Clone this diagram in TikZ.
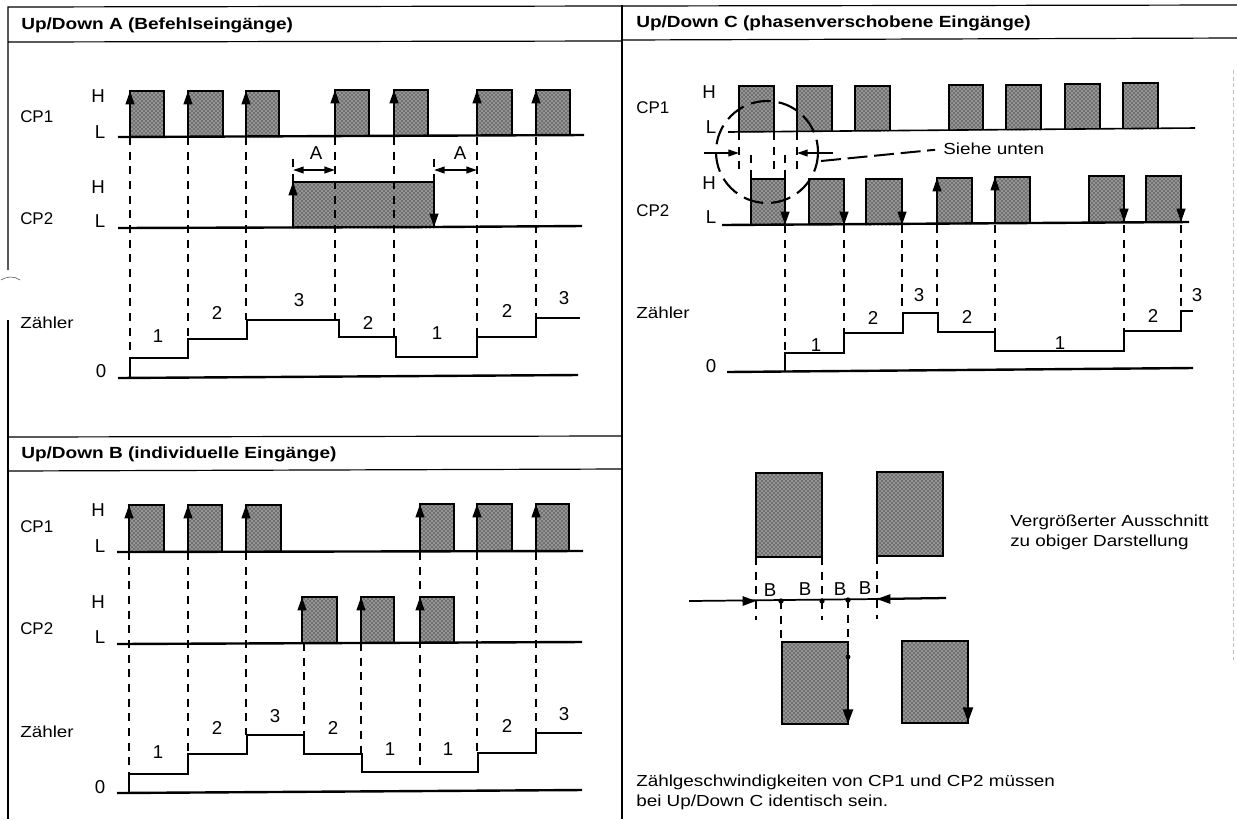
\documentclass[tikz,border=0pt]{standalone}
\usepackage{fontspec}
\setmainfont[FakeStretch=1.18]{Liberation Sans}
\newfontfamily\plainf{Liberation Sans}
\usetikzlibrary{arrows.meta,patterns}
\newcommand\pulse[4]{%
  \fill[black!42] (#1,#4) rectangle (#2,#3);
  \fill[pattern=crosshatch dots,pattern color=black] (#1,#4) rectangle (#2,#3);
  \draw[edge] (#1,#4) -- (#1,#3) -- (#2,#3) -- (#2,#4);}
\newcommand\pulsefull[4]{%
  \fill[black!42] (#1,#4) rectangle (#2,#3);
  \fill[pattern=crosshatch dots,pattern color=black] (#1,#4) rectangle (#2,#3);
  \draw[thickedge] (#1,#4) rectangle (#2,#3);}
\tikzset{
  x=0.75pt,y=-0.75pt,
  frame/.style={line width=0.9pt,black},
  edge/.style={line width=1.4pt,black},
  thickedge/.style={line width=2pt,black},
  base/.style={line width=1.8pt,black},
  stepline/.style={line width=1.5pt,black,line join=miter},
  vdash/.style={line width=1.4pt,black,dash pattern=on 6pt off 5pt},
  uptip/.style={-{Stealth[length=10pt,width=6.5pt,inset=0pt]},line width=1.5pt,black},
  bigtip/.style={-{Stealth[length=11pt,width=7.5pt,inset=0pt]},line width=1.6pt,black},
  dim/.style={{Stealth[length=8pt,width=5pt,inset=0pt]}-{Stealth[length=8pt,width=5pt,inset=0pt]},line width=1.3pt,black},
  onetip/.style={-{Stealth[length=8pt,width=5pt,inset=0pt]},line width=1.3pt,black},
  lab/.style={inner sep=0pt,font=\plainf\fontsize{14pt}{16pt}\selectfont,anchor=center},
  cplab/.style={inner sep=0pt,anchor=west,font=\plainf\fontsize{12.7pt}{15pt}\selectfont},
  llab/.style={inner sep=0pt,anchor=west,font=\fontsize{12pt}{14pt}\selectfont},
  head/.style={inner sep=0pt,anchor=west,font=\fontsize{12.1pt}{14pt}\selectfont\bfseries},
  note/.style={inner sep=0pt,anchor=west,font=\fontsize{12pt}{14pt}\selectfont},
  dotmark/.style={circle,fill=black,inner sep=0pt,minimum size=4pt},
}
\begin{document}
\begin{tikzpicture}
\useasboundingbox (0,0) rectangle (1237,819);
\fill[white] (0,0) rectangle (1237,819);
% frame
\draw[frame] (8,270) -- (8,7) -- (1237,5);
\draw[frame] (8,320) -- (8,819);
\draw[frame] (8,42) -- (622,41);
\draw[frame] (622,40) -- (1237,38);
\draw[frame] (622,5) -- (622,819);
\draw[frame] (8,437) -- (622,436);
\draw[frame] (8,471) -- (622,469);
\draw[line width=.4pt,black!70] (1,280) .. controls (8,276) and (14,276) .. (20,280);
\draw[line width=.6pt,black!25,dash pattern=on 3pt off 2pt] (1233,70) -- (1233,660);
\node[head] (hA) at (21,25) {Up/Down A (Befehlseingänge)};
\node[head] (hB) at (21,454) {Up/Down B (individuelle Eingänge)};
\node[head] (hC) at (636,23) {Up/Down C (phasenverschobene Eingänge)};

% ---------- Panel A
\pulse{130}{164}{91}{137}\pulse{188}{223}{91}{137}\pulse{246}{279}{91}{137}
\pulse{335}{369}{90}{136}\pulse{394}{428}{90}{136}\pulse{477}{512}{90}{135}\pulse{536}{570}{90}{135}
\pulse{293}{434}{182}{228}
\foreach \x/\e in {130/358,188/339,246/320,335/320,394/337,477/337,536/318} \draw[vdash] (\x,137) -- (\x,\e);
\draw[vdash] (293,182) -- (293,157);
\draw[vdash] (434,182) -- (434,157);
\draw[base] (118,137) -- (584,135);
\draw[base] (118,228) -- (434,227) -- (582,226);
\foreach \x/\y in {130/91,188/91,246/91,335/90,394/90,477/90,536/90} \draw[uptip] (\x,\y+20) -- (\x,\y);
\draw[uptip] (293,206) -- (293,182);
\draw[uptip] (434,206) -- (434,227);
\draw[dim] (293,170) -- (335,170);
\draw[dim] (434,170) -- (477,170);
\draw[base] (118,378) -- (578,375);
\draw[stepline] (130,378) -- (130,358) -- (188,358) -- (188,339) -- (247,339) -- (247,320) -- (339,320) -- (339,337) -- (396,337) -- (396,357) -- (477,357) -- (477,337) -- (536,337) -- (536,318) -- (580,318);
\node[lab] (aA1) at (316,153) {A};
\node[lab] (aA2) at (460,153) {A};
\node[lab] (aH1) at (98,96) {H};
\node[lab] (aL1) at (100,132) {L};
\node[cplab] (aCP1) at (20,117) {CP1};
\node[lab] (aH2) at (98,187) {H};
\node[lab] (aL2) at (100,221) {L};
\node[cplab] (aCP2) at (20,219) {CP2};
\node[llab] (aZ) at (20,323) {Zähler};
\node[lab] (a0) at (101,371) {0};
\node[lab] (an1) at (158,336) {1};
\node[lab] (an2) at (217,313) {2};
\node[lab] (an3) at (299,300) {3};
\node[lab] (an4) at (368,323) {2};
\node[lab] (an5) at (437,333) {1};
\node[lab] (an6) at (507,311) {2};
\node[lab] (an7) at (564,298) {3};

% ---------- Panel B
\foreach \x/\e in {129/774,188/754,246/735,420/772,477/753,536/733} \draw[vdash] (\x,552) -- (\x,\e);
\foreach \x/\e in {304/735,361/754} \draw[vdash] (\x,643) -- (\x,\e);
\pulse{129}{164}{505}{552}\pulse{188}{222}{505}{552}\pulse{246}{281}{505}{552}
\pulse{420}{454}{504}{551}\pulse{477}{512}{504}{551}\pulse{536}{569}{504}{551}
\pulse{302}{337}{597}{643}\pulse{361}{394}{597}{643}\pulse{420}{454}{597}{642}
\draw[base] (117,552) -- (583,551);
\draw[base] (117,644) -- (582,642);
\foreach \x/\y in {129/505,188/505,246/505,420/504,477/504,536/504,302/597,361/597,420/597} \draw[uptip] (\x,\y+20) -- (\x,\y);
\draw[base] (117,793) -- (582,790);
\draw[stepline] (129,793) -- (129,774) -- (188,774) -- (188,754) -- (247,754) -- (247,735) -- (304,735) -- (304,754) -- (362,754) -- (362,772) -- (478,772) -- (478,753) -- (536,753) -- (536,733) -- (582,733);
\node[lab] (bH1) at (98,510) {H};
\node[lab] (bL1) at (100,546) {L};
\node[cplab] (bCP1) at (20,527) {CP1};
\node[lab] (bH2) at (98,602) {H};
\node[lab] (bL2) at (100,637) {L};
\node[cplab] (bCP2) at (20,629) {CP2};
\node[llab] (bZ) at (20,732) {Zähler};
\node[lab] (b0) at (100,787) {0};
\node[lab] (bn1) at (158,752) {1};
\node[lab] (bn2) at (217,728) {2};
\node[lab] (bn3) at (275,716) {3};
\node[lab] (bn4) at (333,728) {2};
\node[lab] (bn5) at (390,749) {1};
\node[lab] (bn6) at (448,749) {1};
\node[lab] (bn7) at (507,726) {2};
\node[lab] (bn8) at (564,714) {3};

% ---------- Panel C
\foreach \x/\e in {785/353,844/333,902/313,937/313,995/332,1124/331,1181/311} \draw[vdash] (\x,225) -- (\x,\e);
\foreach \x in {739,774,797} \draw[line width=1.2pt,dash pattern=on 6pt off 5pt] (\x,132) -- (\x,170);
\foreach \x in {751,785} \draw[line width=1.2pt,dash pattern=on 6pt off 5pt] (\x,155) -- (\x,179);
\pulse{739}{774}{86}{132}\pulse{797}{832}{86}{131}\pulse{855}{890}{86}{131}
\pulse{949}{983}{85}{130}\pulse{1006}{1041}{85}{130}\pulse{1065}{1100}{84}{129}\pulse{1123}{1158}{83}{129}
\pulse{751}{785}{179}{225}\pulse{809}{844}{179}{225}\pulse{866}{902}{179}{225}
\pulse{937}{972}{178}{224}\pulse{995}{1030}{177}{223}\pulse{1089}{1124}{176}{222}\pulse{1146}{1181}{176}{222}
\draw[line width=1.2pt] (728,132) -- (1195,128);
\draw[base] (722,225) -- (1189,222);
\foreach \x/\y/\b in {785/203/225,844/203/225,902/203/225,1124/200/222,1181/200/222} \draw[uptip] (\x,\y) -- (\x,\b);
\foreach \x/\y in {937/178,995/177} \draw[uptip] (\x,\y+20) -- (\x,\y);
\draw[onetip] (704,153) -- (739,153);
\draw[onetip] (833,153) -- (797,153);
\draw[line width=1.6pt,black,dash pattern=on 15pt off 6pt] (767,152) circle [radius=51];
\node[llab] (siehe) at (943,149) {Siehe unten};
\coordinate (leadA) at (821,161);
\draw[line width=1.5pt,black,dash pattern=on 15pt off 5pt,shorten >=6pt] (leadA) -- (siehe.west);
\draw[base] (727,372) -- (1193,368);
\draw[stepline] (785,372) -- (785,353) -- (844,353) -- (844,333) -- (903,333) -- (903,313) -- (938,313) -- (938,332) -- (995,332) -- (995,351) -- (1124,351) -- (1124,331) -- (1181,331) -- (1181,311) -- (1193,311);
\node[lab] (cH1) at (709,92) {H};
\node[lab] (cL1) at (711,127) {L};
\node[cplab] (cCP1) at (636,108) {CP1};
\node[lab] (cH2) at (709,183) {H};
\node[lab] (cL2) at (711,217) {L};
\node[cplab] (cCP2) at (636,211) {CP2};
\node[llab] (cZ) at (636,313) {Zähler};
\node[lab] (c0) at (711,366) {0};
\node[lab] (cn1) at (816,345) {1};
\node[lab] (cn2) at (873,318) {2};
\node[lab] (cn3) at (919,295) {3};
\node[lab] (cn4) at (967,317) {2};
\node[lab] (cn5) at (1060,343) {1};
\node[lab] (cn6) at (1153,316) {2};
\node[lab] (cn7) at (1197,295) {3};

% ---------- Enlarged detail
\pulsefull{756}{822}{473}{557}
\pulsefull{877}{943}{472}{556}
\pulsefull{782}{848}{642}{724}
\pulsefull{902}{968}{641}{723}
\draw[vdash] (756,557) -- (756,620);
\draw[vdash] (822,557) -- (822,620);
\draw[vdash] (877,556) -- (877,619);
\draw[vdash] (781,601) -- (781,640);
\draw[vdash] (848,600) -- (848,640);
\draw[line width=1.3pt] (689,601) -- (877,599);
\draw[line width=1.7pt] (877,599) -- (946,598);
\node[dotmark] (d1) at (781,601) {};
\node[dotmark] (d2) at (822,601) {};
\node[dotmark] (d3) at (848,600) {};
\draw[{Stealth[length=10pt,width=7pt,inset=0pt]}-,line width=1.3pt] (756,601) -- (742,601);
\draw[{Stealth[length=10pt,width=7pt,inset=0pt]}-,line width=1.3pt] (877,599) -- (892,599);
\draw[bigtip] (848,700) -- (848,724);
\draw[bigtip] (968,699) -- (968,722);
\fill (848,657) circle [radius=2.4];
\node[lab] (B1) at (770,590) {B};
\node[lab] (B2) at (805,589) {B};
\node[lab] (B3) at (840,589) {B};
\node[lab] (B4) at (865,588) {B};
\node[note] (v1) at (1010,522) {Vergrößerter Ausschnitt};
\node[note] (v2) at (1010,542) {zu obiger Darstellung};
\node[note] (z1) at (636,782) {Zählgeschwindigkeiten von CP1 und CP2 müssen};
\node[note] (z2) at (636,802) {bei Up/Down C identisch sein.};
\end{tikzpicture}
\end{document}
